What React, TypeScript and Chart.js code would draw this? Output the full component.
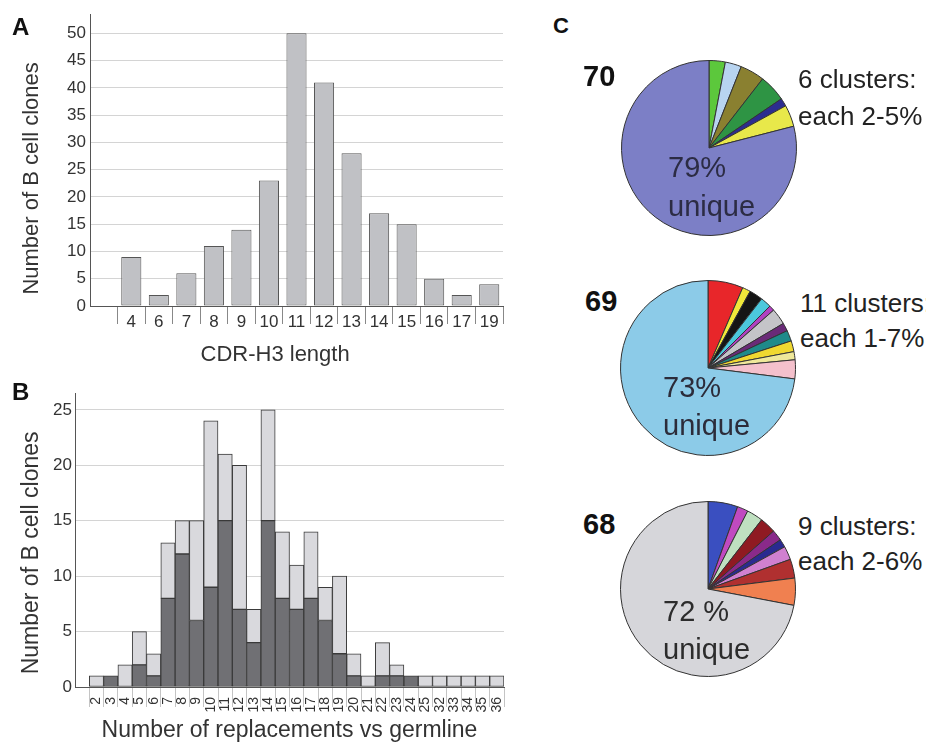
import React, { useEffect, useRef } from "react";
import { Chart, registerables } from "chart.js";

Chart.register(...registerables);

const FONT = "'Liberation Sans', Arial, Helvetica, sans-serif";
Chart.defaults.font.family = FONT;

// ---------- Panel A: CDR-H3 length ----------
const cdrLengths = ["", "4", "6", "7", "8", "9", "10", "11", "12", "13", "14", "15", "16", "17", "19"];
const cdrCounts = [null, 9, 2, 6, 11, 14, 23, 50, 41, 28, 17, 15, 5, 2, 4];
const cdrTicks = [0, 5, 10, 15, 20, 25, 30, 35, 40, 45, 50];

// ---------- Panel B: replacements vs germline ----------
const replacements = ["", "2", "3", "4", "5", "6", "7", "8", "9", "10", "11", "12", "13", "14", "15", "16", "17", "18", "19", "20", "21", "22", "23", "24", "25", "32", "33", "34", "35", "36"];
const darkCounts = [null, 0, 1, 0, 2, 1, 8, 12, 6, 9, 15, 7, 4, 15, 8, 7, 8, 6, 3, 1, 0, 1, 1, 1, 0, 0, 0, 0, 0, 0];
const lightCounts = [null, 1, 0, 2, 3, 2, 5, 3, 9, 15, 6, 13, 3, 10, 6, 4, 6, 3, 7, 2, 1, 3, 1, 0, 1, 1, 1, 1, 1, 1];
const replTicks = [0, 5, 10, 15, 20, 25];

// ---------- Panel C: pies ----------
const pie70Values = [3, 3, 4.5, 5, 1.5, 4, 79];
const pie70Colors = ["#5cc83c", "#b8d4f0", "#8a8030", "#2e9444", "#2c2c90", "#e8e84a", "#7c7fc6"];
const pie69Values = [6.5, 1.5, 2.5, 2, 1, 3, 1.5, 2, 2, 1.5, 3.5, 73];
const pie69Colors = ["#e8262a", "#f0e83a", "#151515", "#4cc8dc", "#b040c0", "#c4c4c8", "#6a2a78", "#1f8a8a", "#f0d830", "#efe89a", "#f4c0cc", "#8ccbe8"];
const pie68Values = [5.5, 2, 3, 3, 2, 1.5, 2.5, 3.5, 5, 72];
const pie68Colors = ["#3a4fc0", "#c04ac0", "#bfe0c0", "#8f1a22", "#8a2a8a", "#2a2a90", "#d080d0", "#b03030", "#f08050", "#d6d6da"];

// trailing spaces shift a centred axis title toward the origin, as in the figure
const pad = (t: string, n: number) => t + "\u00a0".repeat(n);

function barChartA(canvas: HTMLCanvasElement) {
  return new Chart(canvas, {
    type: "bar",
    data: {
      labels: cdrLengths,
      datasets: [
        {
          data: cdrCounts,
          backgroundColor: "#c0c1c5",
          borderColor: "#555",
          borderWidth: 1,
          borderSkipped: false,
          barPercentage: 0.73,
          categoryPercentage: 1,
        },
      ],
    },
    options: {
      responsive: false,
      animation: false,
      layout: { padding: { left: 0, top: 6, right: 27, bottom: 0 } },
      plugins: { legend: { display: false }, tooltip: { enabled: false } },
      scales: {
        x: {
          grid: {
            display: true,
            drawOnChartArea: false,
            drawTicks: true,
            tickLength: 18,
            offset: true,
            color: (ctx: any) => (ctx.index === 0 ? "rgba(0,0,0,0)" : "#888"),
          },
          border: { color: "#555", width: 1 },
          ticks: { color: "#333", font: { size: 17 }, padding: -12, autoSkip: false, maxRotation: 0 },
          title: { display: true, text: pad("CDR-H3 length", 7), color: "#333", font: { size: 22 }, padding: { top: 0, bottom: 7 } },
          afterFit: (s: any) => {
            s.height = 69;
          },
        },
        y: {
          min: 0,
          max: 53.5,
          ticks: { stepSize: 5, color: "#333", font: { size: 17 }, padding: 4 },
          afterBuildTicks: (s: any) => {
            s.ticks = cdrTicks.map((v) => ({ value: v }));
          },
          grid: { color: "#d4d4d4", drawTicks: false },
          border: { color: "#555", width: 1 },
          title: { display: true, text: pad("Number of B cell clones", 6), color: "#333", font: { size: 22 }, padding: { top: 19, bottom: 0 } },
          afterFit: (s: any) => {
            s.width = 90;
          },
        },
      },
    },
  } as any);
}

function barChartB(canvas: HTMLCanvasElement) {
  return new Chart(canvas, {
    type: "bar",
    data: {
      labels: replacements,
      datasets: [
        {
          data: darkCounts,
          backgroundColor: "#707074",
          borderColor: "#3a3a3a",
          borderWidth: 1,
          borderSkipped: false,
          barPercentage: 1,
          categoryPercentage: 1,
        },
        {
          data: lightCounts,
          backgroundColor: "#d9d9dd",
          borderColor: "#3a3a3a",
          borderWidth: 1,
          borderSkipped: false,
          barPercentage: 1,
          categoryPercentage: 1,
        },
      ],
    },
    options: {
      responsive: false,
      animation: false,
      layout: { padding: { left: 0, top: 13, right: 26, bottom: 0 } },
      plugins: { legend: { display: false }, tooltip: { enabled: false } },
      scales: {
        x: {
          stacked: true,
          grid: {
            display: true,
            drawOnChartArea: false,
            drawTicks: true,
            tickLength: 20,
            offset: true,
            color: (ctx: any) => (ctx.index === 0 ? "rgba(0,0,0,0)" : "#c4c4c4"),
          },
          border: { color: "#555", width: 1 },
          ticks: { color: "#333", font: { size: 14 }, padding: -10, autoSkip: false, minRotation: 90, maxRotation: 90 },
          title: {
            display: true,
            text: "Number of replacements vs germline",
            color: "#333",
            font: { size: 23 },
            padding: { top: 0, bottom: 1 },
          },
          afterFit: (s: any) => {
            s.height = 58;
          },
        },
        y: {
          stacked: true,
          min: 0,
          max: 26.5,
          ticks: { stepSize: 5, color: "#333", font: { size: 17 }, padding: 3 },
          afterBuildTicks: (s: any) => {
            s.ticks = replTicks.map((v) => ({ value: v }));
          },
          grid: { color: "#d4d4d4", drawTicks: false },
          border: { color: "#555", width: 1 },
          title: { display: true, text: pad("Number of B cell clones", 4), color: "#333", font: { size: 23 }, padding: { top: 18, bottom: 0 } },
          afterFit: (s: any) => {
            s.width = 75;
          },
        },
      },
    },
  } as any);
}

function pieChart(canvas: HTMLCanvasElement, values: number[], colors: string[]) {
  const labels = values.map((_, i) => (i === values.length - 1 ? "unique" : "cluster " + (i + 1)));
  return new Chart(canvas, {
    type: "pie",
    data: {
      labels,
      datasets: [{ data: values, backgroundColor: colors, borderColor: "#333", borderWidth: 1 }],
    },
    options: {
      responsive: false,
      animation: false,
      layout: { padding: 0 },
      plugins: { legend: { display: false }, tooltip: { enabled: false } },
    },
  } as any);
}

function ChartCanvas({
  left,
  top,
  width,
  height,
  make,
}: {
  left: number;
  top: number;
  width: number;
  height: number;
  make: (c: HTMLCanvasElement) => Chart;
}) {
  const ref = useRef<HTMLCanvasElement | null>(null);
  useEffect(() => {
    if (!ref.current) return;
    const chart = make(ref.current);
    return () => chart.destroy();
  }, []);
  return (
    <canvas
      ref={ref}
      width={width}
      height={height}
      style={{ position: "absolute", left, top, width, height, display: "block" }}
    />
  );
}

function Txt({
  left,
  baseline,
  size,
  bold,
  color,
  children,
}: {
  left: number;
  baseline: number;
  size: number;
  bold?: boolean;
  color?: string;
  children: React.ReactNode;
}) {
  return (
    <div
      style={{
        position: "absolute",
        left,
        top: baseline - 0.8465 * size,
        fontSize: size,
        lineHeight: 1,
        fontWeight: bold ? 700 : 400,
        color: color || "#222",
        whiteSpace: "nowrap",
        fontFamily: FONT,
      }}
    >
      {children}
    </div>
  );
}

export default function App() {
  return (
    <div
      style={{
        position: "fixed",
        left: 0,
        top: 0,
        width: 926,
        height: 745,
        overflow: "hidden",
        background: "#fff",
        fontFamily: FONT,
      }}
    >
      <ChartCanvas left={0} top={0} width={530} height={375} make={barChartA} />
      <ChartCanvas left={0} top={380} width={530} height={365} make={barChartB} />
      <ChartCanvas left={621} top={60} width={176} height={176} make={(c) => pieChart(c, pie70Values, pie70Colors)} />
      <ChartCanvas left={620} top={280} width={176} height={176} make={(c) => pieChart(c, pie69Values, pie69Colors)} />
      <ChartCanvas left={620} top={501} width={176} height={176} make={(c) => pieChart(c, pie68Values, pie68Colors)} />

      <Txt left={12} baseline={35} size={24} bold color="#111">A</Txt>
      <Txt left={12} baseline={400} size={24} bold color="#111">B</Txt>
      <Txt left={553} baseline={34} size={22} bold color="#111">C</Txt>

      <Txt left={583} baseline={87} size={29} bold color="#111">70</Txt>
      <Txt left={798} baseline={88} size={26}>6 clusters:</Txt>
      <Txt left={798} baseline={125} size={26}>each 2-5%</Txt>
      <Txt left={668} baseline={178} size={29} color="#2c2c44">79%</Txt>
      <Txt left={668} baseline={217} size={29} color="#2c2c44">unique</Txt>

      <Txt left={585} baseline={312} size={29} bold color="#111">69</Txt>
      <Txt left={800} baseline={312} size={26}>11 clusters:</Txt>
      <Txt left={800} baseline={347} size={26}>each 1-7%</Txt>
      <Txt left={663} baseline={398} size={29} color="#2c2c3a">73%</Txt>
      <Txt left={663} baseline={436} size={29} color="#2c2c3a">unique</Txt>

      <Txt left={583} baseline={535} size={29} bold color="#111">68</Txt>
      <Txt left={798} baseline={535} size={26}>9 clusters:</Txt>
      <Txt left={798} baseline={570} size={26}>each 2-6%</Txt>
      <Txt left={663} baseline={622} size={29} color="#2c2c2c">72 %</Txt>
      <Txt left={663} baseline={660} size={29} color="#2c2c2c">unique</Txt>
    </div>
  );
}
